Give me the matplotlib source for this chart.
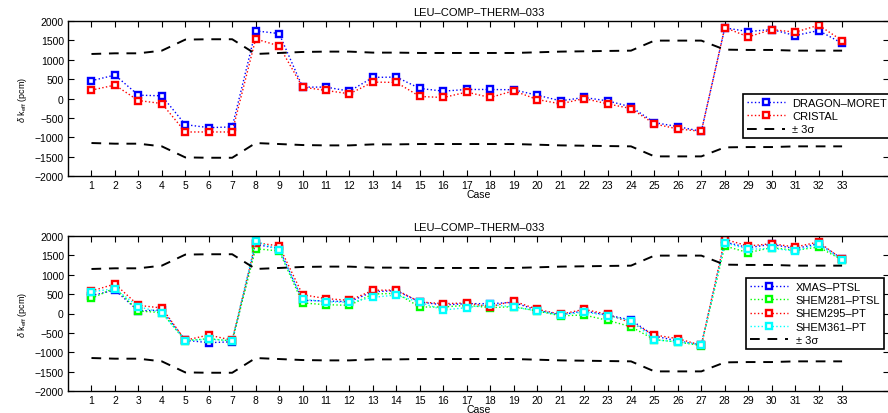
import numpy as np
import matplotlib
matplotlib.use("Agg")
import matplotlib.pyplot as plt

plt.rcParams['font.family'] = ['Liberation Sans', 'DejaVu Sans']
plt.rcParams['font.size'] = 7.5
plt.rcParams['mathtext.fontset'] = 'custom'
plt.rcParams['mathtext.rm'] = 'Liberation Sans'
plt.rcParams['mathtext.it'] = 'Liberation Sans:italic'

cases = list(range(1, 34))

# +3 sigma band (pcm); the lower band is its mirror
sigma3 = [1149, 1166, 1166, 1235, 1520, 1529, 1529, 1149, 1175, 1201, 1210,
          1210, 1184, 1184, 1175, 1175, 1175, 1175, 1175, 1192, 1210, 1218,
          1227, 1235, 1494, 1494, 1494, 1261, 1253, 1253, 1235, 1235, 1235]

# top panel
dragon = [458, 605, 86, 69, -674, -752, -734, 1745, 1676, 294, 294, 190, 544,
          553, 259, 190, 233, 233, 225, 86, -60, 26, -60, -216, -622, -726,
          -847, 1823, 1728, 1780, 1624, 1754, 1425]
cristal = [216, 346, -52, -130, -864, -864, -864, 1538, 1356, 294, 207, 121,
           423, 415, 52, 26, 164, 26, 199, -26, -138, 0, -138, -259, -657,
           -786, -847, 1832, 1590, 1780, 1711, 1892, 1495]

# bottom panel
xmas = [460, 606, 65, 90, -690, -753, -730, 1785, 1673, 340, 323, 305, 563,
        589, 297, 220, 254, 254, 288, 82, -30, 65, -39, -168, -581, -710,
        -810, 1845, 1699, 1785, 1673, 1802, 1415]
shem281 = [390, 660, 65, 22, -700, -650, -710, 1673, 1613, 271, 228, 211, 503,
           520, 168, 168, 211, 151, 176, 65, -60, -39, -176, -340, -675, -735,
           -830, 1742, 1570, 1700, 1630, 1716, 1380]
shem295 = [580, 761, 211, 142, -690, -555, -690, 1828, 1742, 486, 383, 340,
           598, 606, 297, 254, 271, 176, 323, 108, -20, 108, -22, -237, -555,
           -650, -820, 1914, 1742, 1802, 1716, 1845, 1400]
shem361 = [560, 641, 176, 22, -700, -667, -700, 1871, 1630, 366, 305, 288, 417,
           477, 288, 90, 151, 237, 168, 65, -40, 39, -56, -185, -675, -735,
           -810, 1828, 1656, 1682, 1613, 1785, 1380]

W, H = 888, 414
fig = plt.figure(figsize=(W / 100, H / 100), dpi=100)

def make_axes(top_px, bottom_px):
    left, right = 68, 889
    return fig.add_axes([left / W, 1 - bottom_px / H, (right - left) / W,
                         (bottom_px - top_px) / H])

def style(ax):
    ax.set_xlim(0, 35)
    ax.set_ylim(-2000, 2000)
    ax.set_xticks(cases)
    ax.set_yticks(range(-2000, 2001, 500))
    ax.tick_params(direction='in', top=True, right=True, length=4, width=0.8,
                   pad=3)
    for s in ax.spines.values():
        s.set_linewidth(1.0)
    ax.set_xlabel('Case', labelpad=-1)
    ax.set_ylabel(r'$\delta$ k$_{\rm eff}$ (pcm)', labelpad=4, fontsize=6.5)
    ax.set_title('LEU–COMP–THERM–033', fontsize=8, pad=4)

def series(ax, y, color, label):
    ax.plot(cases, y, ls=':', lw=1.0, color=color, marker='s', ms=4.2,
            mfc='white', mec=color, mew=1.7, label=label)

def band(ax):
    up = np.array(sigma3)
    ax.plot(cases, up, '--', color='black', lw=1.4, dashes=(5, 4),
            label='± 3σ')
    ax.plot(cases, -up, '--', color='black', lw=1.4, dashes=(5, 4))

def legend(ax, x, y):
    leg = ax.legend(loc='upper left', bbox_to_anchor=(x, y), fontsize=8,
                    fancybox=False, edgecolor='black', framealpha=1,
                    numpoints=1, handlelength=3.4, labelspacing=0.3,
                    borderpad=0.35, borderaxespad=0, handletextpad=0.7)
    leg.get_frame().set_linewidth(1.2)

ax1 = make_axes(22, 177)
series(ax1, dragon, 'blue', 'DRAGON–MORET')
series(ax1, cristal, 'red', 'CRISTAL')
band(ax1)
style(ax1)
legend(ax1, 0.822, 0.53)

ax2 = make_axes(237, 392)
series(ax2, xmas, 'blue', 'XMAS–PTSL')
series(ax2, shem281, 'lime', 'SHEM281–PTSL')
series(ax2, shem295, 'red', 'SHEM295–PT')
series(ax2, shem361, 'cyan', 'SHEM361–PT')
band(ax2)
style(ax2)
legend(ax2, 0.826, 0.73)

fig.savefig('out.png', dpi=100)
